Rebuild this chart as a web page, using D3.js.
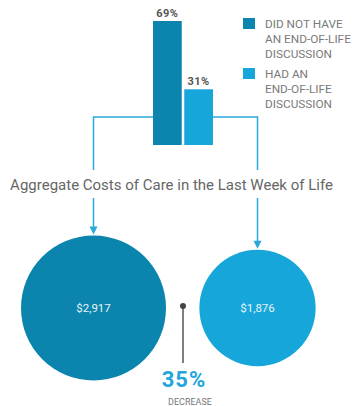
<!DOCTYPE html>
<html><head><meta charset="utf-8">
<script src="https://cdn.jsdelivr.net/npm/d3@7"></script>
<style>body{margin:0;background:#fff}svg{display:block}</style>
</head><body>
<script>
const groups = ["DID NOT HAVE AN END-OF-LIFE DISCUSSION", "HAD AN END-OF-LIFE DISCUSSION"];
const legendLines = [["DID NOT HAVE","AN END-OF-LIFE","DISCUSSION"],["HAD AN","END-OF-LIFE","DISCUSSION"]];
const shares = [69, 31];
const costs = [2917, 1876];
const costLabels = ["$2,917", "$1,876"];
const changeLabel = "35%";
const changeSub = "DECREASE";
const title = "Aggregate Costs of Care in the Last Week of Life";
const colors = ["#0b85ad", "#17a6da"];
const lineColor = "#2ba8dc";

const W = 355, H = 406;
const svg = d3.select("body").append("svg").attr("width", W).attr("height", H);

// bars
const x = d3.scaleBand().domain(groups).range([153, 213]).paddingInner(0.08);
const y = d3.scaleLinear().domain([0, 69]).range([145, 21]);
svg.selectAll("rect.bar").data(shares).join("rect")
  .attr("x", (d,i) => x(groups[i])).attr("width", x.bandwidth())
  .attr("y", d => y(d)).attr("height", d => y(0) - y(d))
  .attr("fill", (d,i) => colors[i]);
svg.selectAll("text.pct").data(shares).join("text")
  .attr("x", (d,i) => x(groups[i]) + x.bandwidth()/2).attr("y", d => y(d) - 4)
  .attr("text-anchor","middle").attr("font-family","Roboto, sans-serif")
  .attr("font-weight","bold").attr("font-size",11).attr("letter-spacing",0.5).attr("fill","#555")
  .text(d => d + "%");

// legend
legendLines.forEach((lines, i) => {
  const y0 = 18 + i * 50;
  svg.append("rect").attr("x",243).attr("y",y0).attr("width",12).attr("height",11).attr("fill",colors[i]);
  lines.forEach((t, j) => {
    svg.append("text").attr("x",265).attr("y", y0 + 10 + j*15)
      .attr("font-family","Roboto, sans-serif").attr("font-size",11.8)
      .attr("fill","#7a7a7a").text(t);
  });
});

// circles
const r = d3.scaleSqrt().domain([0, 2917]).range([0, 72.5]);
const cx = [93.5, 257.5];
const cy = 308;
svg.selectAll("circle.c").data(costs).join("circle")
  .attr("cx",(d,i)=>cx[i]).attr("cy",cy).attr("r", d => r(d)).attr("fill",(d,i)=>colors[i]);
svg.selectAll("text.cost").data(costLabels).join("text")
  .attr("x",(d,i)=>cx[i]).attr("y",cy+4).attr("text-anchor","middle")
  .attr("font-family","Roboto, sans-serif").attr("font-size",11.5).attr("fill","#e6f3f8")
  .text(d=>d);

// connectors
const lineY = 117;
const barLeft = x(groups[0]), barRight = x(groups[1]) + x.bandwidth();
const g = svg.append("g").attr("stroke", lineColor).attr("stroke-width",1.5).attr("fill","none");
g.append("path").attr("d", `M${barLeft},${lineY}H${cx[0]}V170M${cx[0]},198V${cy - r(costs[0]) - 6}`);
g.append("path").attr("d", `M${barRight},${lineY}H${cx[1]}V170M${cx[1]},198V${cy - r(costs[1]) - 6}`);
[0,1].forEach(i => {
  const tip = cy - r(costs[i]) - 1;
  svg.append("path").attr("d", `M${cx[i]-4},${tip-8}L${cx[i]+4},${tip-8}L${cx[i]},${tip}Z`).attr("fill", lineColor);
});

// title
svg.append("text").attr("x", 171.5).attr("y",190).attr("text-anchor","middle")
  .attr("font-family","Roboto, sans-serif").attr("font-size",15).attr("fill","#666")
  .text(title);

// decrease marker
const mx = 183;
svg.append("line").attr("x1",mx).attr("x2",mx).attr("y1",306).attr("y2",363).attr("stroke","#555").attr("stroke-width",1.5);
svg.append("circle").attr("cx",mx).attr("cy",306).attr("r",3).attr("fill","#444");
svg.append("text").attr("x",184).attr("y",387).attr("text-anchor","middle")
  .attr("font-family","Roboto, sans-serif").attr("font-weight","bold").attr("font-size",22)
  .attr("letter-spacing",1).attr("fill","#22a6db").text(changeLabel);
svg.append("text").attr("x",190).attr("y",405).attr("text-anchor","middle")
  .attr("font-family","Roboto, sans-serif").attr("font-size",9)
  .attr("fill","#777").text(changeSub);
</script>
</body></html>
